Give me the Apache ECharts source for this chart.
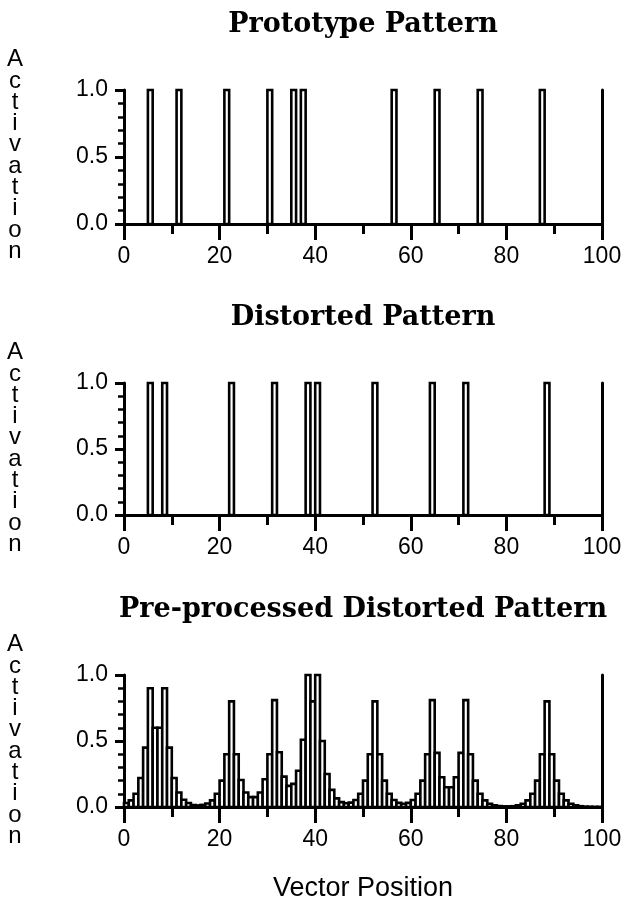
<!DOCTYPE html>
<html>
<head>
<meta charset="utf-8">
<script src="https://cdn.jsdelivr.net/npm/echarts@6/dist/echarts.min.js"></script>
<style>
  html, body { margin: 0; padding: 0; background: #fff; }
  #main { width: 626px; height: 909px; }
</style>
</head>
<body>
<div id="main"></div>
<script>
const titles = ["Prototype Pattern", "Distorted Pattern", "Pre-processed Distorted Pattern"];
const yName = "Activation";
const xName = "Vector Position";
const xTicks = [0, 20, 40, 60, 80, 100];
const yTicks = [0.0, 0.5, 1.0];

// positions that are "on" (activation 1.0)
const prototypeOn = [5, 11, 21, 30, 35, 37, 56, 65, 74, 87];
const distortedOn = [5, 8, 22, 31, 38, 40, 52, 64, 71, 88];

// activation at positions 0..99
const preprocessed = [
  0.03, 0.05, 0.1, 0.22, 0.45, 0.9, 0.6, 0.6, 0.9, 0.45,
  0.22, 0.11, 0.055, 0.03, 0.015, 0.012, 0.016, 0.027, 0.05, 0.1,
  0.2, 0.4, 0.8, 0.4, 0.205, 0.11, 0.075, 0.075, 0.11, 0.21,
  0.4, 0.81, 0.415, 0.23, 0.16, 0.175, 0.275, 0.51, 1.0, 0.8,
  1.0, 0.5, 0.25, 0.13, 0.065, 0.037, 0.028, 0.033, 0.053, 0.1,
  0.2, 0.4, 0.8, 0.4, 0.2, 0.1, 0.053, 0.031, 0.025, 0.031,
  0.053, 0.1, 0.2, 0.4, 0.81, 0.41, 0.225, 0.15, 0.15, 0.225,
  0.41, 0.81, 0.4, 0.2, 0.1, 0.05, 0.025, 0.013, 0.007, 0.005,
  0.005, 0.006, 0.013, 0.025, 0.05, 0.1, 0.2, 0.4, 0.8, 0.4,
  0.2, 0.1, 0.05, 0.025, 0.013, 0.006, 0.003, 0.002, 0.001, 0.001
];

const panelTop = [90, 383, 675];
const panelHeight = [134, 132, 132];
const tickFont = "'Liberation Sans', sans-serif";

const chart = echarts.init(document.getElementById("main"));

// each bar covers [i, i+1]
function renderBar(params, api) {
  const i = api.value(0);
  const v = api.value(1);
  const p0 = api.coord([i, v]);
  const p1 = api.coord([i + 1, 0]);
  return {
    type: "rect",
    shape: { x: p0[0], y: p0[1], width: p1[0] - p0[0], height: p1[1] - p0[1] },
    style: { fill: "#fff", stroke: "#000", lineWidth: 2.6 },
  };
}

const seriesData = [
  prototypeOn.map((p) => [p, 1]),
  distortedOn.map((p) => [p, 1]),
  preprocessed.map((v, i) => [i, v]),
];

const grids = [], xAxes = [], yAxes = [], series = [], graphics = [];
for (let k = 0; k < 3; k++) {
  grids.push({ left: 124, right: 24, top: panelTop[k], height: panelHeight[k] });
  xAxes.push({
    type: "value",
    gridIndex: k,
    min: xTicks[0],
    max: xTicks[xTicks.length - 1],
    interval: xTicks[1] - xTicks[0],
    axisLine: { show: true, onZero: false, lineStyle: { color: "#000", width: 3 } },
    axisTick: { show: true, length: 16, lineStyle: { color: "#000", width: 3 } },
    minorTick: { show: true, splitNumber: 2, length: 10, lineStyle: { color: "#000", width: 3 } },
    splitLine: { show: false },
    axisLabel: {
      margin: 21, color: "#000", fontFamily: tickFont, fontSize: 23,
      showMinLabel: true, showMaxLabel: true,
    },
  });
  yAxes.push({
    type: "value",
    gridIndex: k,
    min: yTicks[0],
    max: yTicks[yTicks.length - 1],
    interval: yTicks[1] - yTicks[0],
    axisLine: { show: true, onZero: false, lineStyle: { color: "#000", width: 3 } },
    axisTick: { show: true, length: 9, lineStyle: { color: "#000", width: 3 } },
    minorTick: { show: true, splitNumber: 5, length: 6, lineStyle: { color: "#000", width: 2.5 } },
    splitLine: { show: false },
    axisLabel: {
      margin: 16, color: "#000", fontFamily: tickFont, fontSize: 23,
      formatter: (v) => v.toFixed(1),
    },
  });
  // right frame line
  yAxes.push({
    type: "value",
    gridIndex: k,
    position: "right",
    min: yTicks[0],
    max: yTicks[yTicks.length - 1],
    axisLine: { show: true, onZero: false, lineStyle: { color: "#000", width: 3 } },
    axisTick: { show: false },
    axisLabel: { show: false },
    splitLine: { show: false },
  });
  series.push({
    type: "custom",
    xAxisIndex: k,
    yAxisIndex: k * 2,
    renderItem: renderBar,
    data: seriesData[k],
    z: 1,
  });
  graphics.push({
    type: "text",
    x: 363,
    y: panelTop[k] - 65,
    style: {
      text: titles[k],
      font: "bold 27px 'DejaVu Serif', serif",
      fill: "#000",
      align: "center",
      verticalAlign: "middle",
    },
  });
  graphics.push({
    type: "text",
    x: 15,
    y: panelTop[k] - 41,
    style: {
      text: yName.split("").join("\n"),
      font: "24px 'Liberation Sans', sans-serif",
      lineHeight: 21.3,
      fill: "#000",
      align: "center",
      verticalAlign: "top",
    },
  });
}
graphics.push({
  type: "text",
  x: 363,
  y: 889,
  style: {
    text: xName,
    font: "27px 'Liberation Sans', sans-serif",
    fill: "#000",
    align: "center",
    verticalAlign: "middle",
  },
});

chart.setOption({
  animation: false,
  backgroundColor: "#fff",
  grid: grids,
  xAxis: xAxes,
  yAxis: yAxes,
  series: series,
  graphic: graphics,
});
</script>
</body>
</html>
